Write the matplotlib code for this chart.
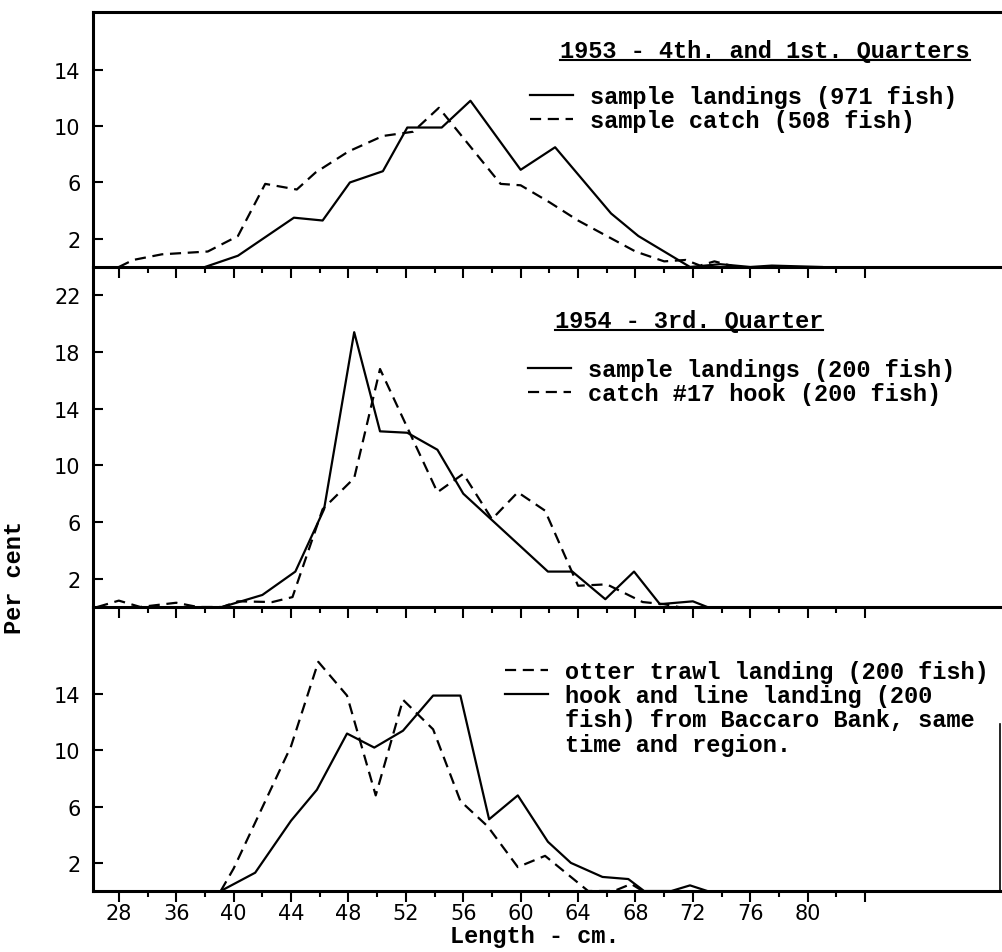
import matplotlib.pyplot as plt
from matplotlib.lines import Line2D
from matplotlib.font_manager import FontProperties

# Length (cm) and per cent for each curve
top_land_x = [38, 40.3, 44.2, 46.2, 48.1, 50.4, 52.1, 54.5, 56.5, 60, 62.4, 66.3, 68.2, 71.8, 73.9, 76, 77.5, 81]
top_land_y = [0, 0.8, 3.5, 3.3, 6.0, 6.8, 9.9, 9.9, 11.8, 6.9, 8.5, 3.8, 2.2, 0, 0.2, 0, 0.1, 0]
top_catch_x = [32, 33, 35, 38.2, 40.3, 42.2, 44.4, 45.7, 48, 50.4, 52.5, 54.3, 58.6, 60, 62, 64, 66, 68, 70, 71.5, 72.5, 73.5, 75]
top_catch_y = [0, 0.5, 0.9, 1.1, 2.2, 5.9, 5.5, 6.7, 8.2, 9.3, 9.6, 11.3, 5.9, 5.8, 4.6, 3.3, 2.2, 1.1, 0.4, 0.5, 0.1, 0.4, 0]

mid_land_x = [39.2, 42, 44.3, 46.3, 48.4, 50.2, 52.1, 54.2, 56, 61.9, 63.6, 65.9, 67.9, 69.7, 72, 73]
mid_land_y = [0, 0.85, 2.5, 6.9, 19.4, 12.4, 12.3, 11.1, 8.0, 2.5, 2.5, 0.55, 2.5, 0.2, 0.4, 0]
mid_catch_x = [30.5, 32, 33.5, 36, 37.5, 39.2, 40.3, 42.7, 44.1, 46.2, 48.4, 50.2, 54.2, 56, 58, 59.8, 61.7, 64, 66, 68.5, 70, 71]
mid_catch_y = [0, 0.45, 0, 0.3, 0, 0, 0.4, 0.35, 0.7, 6.9, 9.1, 16.8, 8.1, 9.4, 6.2, 8.1, 6.8, 1.5, 1.6, 0.35, 0.2, 0]

bot_trawl_x = [39.1, 40, 44, 45.9, 47.9, 49.9, 51.8, 53.9, 55.8, 57.7, 59.8, 61.7, 64.7, 66.5, 67.7, 68.5]
bot_trawl_y = [0, 1.6, 10.3, 16.3, 13.9, 6.8, 13.6, 11.5, 6.4, 4.6, 1.7, 2.5, 0, 0, 0.5, 0]
bot_hook_x = [39.1, 41.5, 44, 45.8, 47.9, 49.8, 51.8, 53.9, 55.8, 57.8, 59.8, 61.9, 63.5, 65.7, 67.5, 68.6, 70.5, 71.8, 73]
bot_hook_y = [0, 1.3, 5.0, 7.2, 11.2, 10.2, 11.4, 13.9, 13.9, 5.1, 6.8, 3.5, 2.0, 1.0, 0.85, 0, 0, 0.4, 0]

# Axis ticks (the first label really reads "28")
x_major = [32, 36, 40, 44, 48, 52, 56, 60, 64, 68, 72, 76, 80, 84]
x_labels = ['28', '36', '40', '44', '48', '52', '56', '60', '64', '68', '72', '76', '80', '']
x_minor = [34, 38, 42, 46, 50, 54, 58, 62, 66, 70, 74, 78, 82]
y_small = [2, 6, 10, 14]
y_mid = [2, 6, 10, 14, 18, 22]

plt.rcParams['font.family'] = 'DejaVu Sans'
mono = FontProperties(family='Liberation Mono', weight='bold', size=17)

fig = plt.figure(figsize=(10.02, 9.53), dpi=100)
gs = fig.add_gridspec(3, 1, height_ratios=[255, 340, 284], hspace=0,
                      left=93 / 1002, right=0.998, top=1 - 13 / 953, bottom=1 - 892 / 953)
ax1 = fig.add_subplot(gs[0])
ax2 = fig.add_subplot(gs[1])
ax3 = fig.add_subplot(gs[2])

dash = (0, (5, 3))
ax1.plot(top_land_x, top_land_y, color='black', lw=1.6, label='sample landings (971 fish)')
ax1.plot(top_catch_x, top_catch_y, color='black', lw=1.6, ls=dash, label='sample catch (508 fish)')
ax2.plot(mid_land_x, mid_land_y, color='black', lw=1.6, label='sample landings (200 fish)')
ax2.plot(mid_catch_x, mid_catch_y, color='black', lw=1.6, ls=dash, label='catch #17 hook (200 fish)')
trawl, = ax3.plot(bot_trawl_x, bot_trawl_y, color='black', lw=1.6, ls=dash)
hook, = ax3.plot(bot_hook_x, bot_hook_y, color='black', lw=1.6)

for ax, ymax, yt in [(ax1, 18.1, y_small), (ax2, 24.0, y_mid), (ax3, 20.2, y_small)]:
    ax.set_xlim(30.2, 93.4)
    ax.set_ylim(0, ymax)
    ax.set_yticks(yt)
    ax.set_xticks(x_major)
    ax.set_xticks(x_minor, minor=True)
    ax.patch.set_visible(False)  # so the panel below does not hide the separator line
    ax.spines['right'].set_visible(False)
    ax.spines['top'].set_visible(False)
    for s in ['left', 'bottom']:
        ax.spines[s].set_linewidth(2.2)
    ax.tick_params(axis='y', direction='in', length=7, width=1.5, pad=9, labelsize=15)
    ax.tick_params(axis='x', which='major', direction='out', length=8, width=1.5, labelsize=15, pad=1)
    ax.tick_params(axis='x', which='minor', direction='out', length=4, width=1.5)
    ax.tick_params(axis='y', which='minor', left=False)

ax1.spines['top'].set_visible(True)
ax1.spines['top'].set_linewidth(2.2)
ax1.tick_params(axis='x', labelbottom=False)
ax2.tick_params(axis='x', labelbottom=False)
ax3.set_xticklabels(x_labels)
ax3.spines['right'].set_visible(True)
ax3.spines['right'].set_linewidth(1.2)
ax3.spines['right'].set_bounds(0, 11.9)

# Legends
leg_kw = dict(loc='upper left', bbox_transform=fig.transFigure, frameon=False, prop=mono,
              handlelength=1.8, handletextpad=0.75, labelspacing=0.05, borderpad=0, borderaxespad=0)
ax1.legend(bbox_to_anchor=(530 / 1002, 1 - 86 / 953), **leg_kw)
ax2.legend(bbox_to_anchor=(528 / 1002, 1 - 359 / 953), **leg_kw)
blank = Line2D([], [], color='none')
ax3.legend([trawl, hook, blank, blank],
           ['otter trawl landing (200 fish)', 'hook and line landing (200',
            'fish) from Baccaro Bank, same', 'time and region.'],
           bbox_to_anchor=(505 / 1002, 1 - 661 / 953), **leg_kw)

# Panel titles, underlined
t1 = fig.text(560 / 1002, 1 - 58 / 953, '1953 - 4th. and 1st. Quarters', fontproperties=mono, va='baseline')
t2 = fig.text(555 / 1002, 1 - 328 / 953, '1954 - 3rd. Quarter', fontproperties=mono, va='baseline')

fig.text(15 / 1002, 1 - 578 / 953, 'Per cent', rotation=90, ha='center', va='center', fontproperties=mono)
fig.text(535 / 1002, 1 - 937 / 953, 'Length - cm.', ha='center', va='center', fontproperties=mono)

fig.canvas.draw()
r = fig.canvas.get_renderer()
for t in [t1, t2]:
    bb = t.get_window_extent(r).transformed(fig.transFigure.inverted())
    y = t.get_position()[1] - 3 / 953
    fig.add_artist(Line2D([bb.x0, bb.x1], [y, y], transform=fig.transFigure, color='black', lw=1.5))

fig.savefig('out.png', dpi=100)
